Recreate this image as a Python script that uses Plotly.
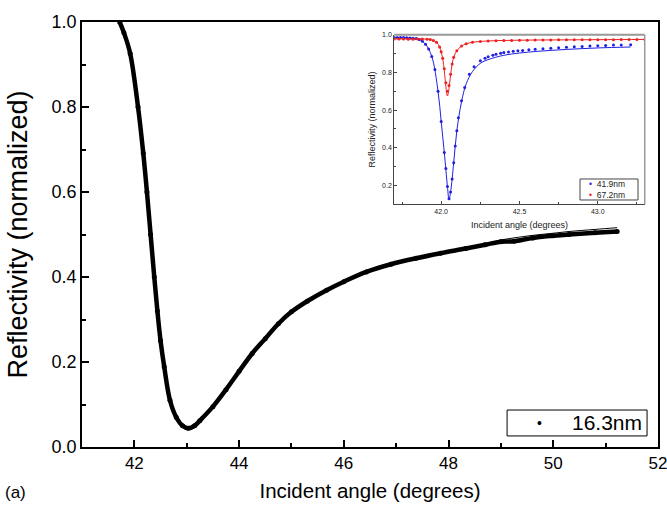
import plotly.graph_objects as go

# ---- main curve: 16.3 nm film (measured points) ----
main_angle = [41.72, 41.80, 41.92, 42.07, 42.17, 42.24, 42.31, 42.38, 42.44, 42.50,
              42.57, 42.68, 42.80, 42.92, 43.03, 43.15, 43.25, 43.50, 43.75, 44.00,
              44.25, 44.50, 44.75, 45.00, 45.30, 45.67, 46.00, 46.43, 46.90, 47.38,
              47.85, 48.33, 48.70, 49.00, 49.25, 49.61, 50.00, 50.30, 50.80, 51.22]
main_refl = [1.000, 0.975, 0.926, 0.800, 0.691, 0.600, 0.500, 0.400, 0.320, 0.250,
             0.189, 0.110, 0.070, 0.050, 0.044, 0.050, 0.062, 0.095, 0.135, 0.178,
             0.220, 0.255, 0.290, 0.318, 0.343, 0.369, 0.389, 0.412, 0.430, 0.444,
             0.456, 0.467, 0.476, 0.483, 0.484, 0.492, 0.497, 0.500, 0.504, 0.507]
# fitted curve (only separates from the points beyond ~48.5 deg)
main_fit_angle = [47.85, 48.33, 48.70, 49.00, 49.25, 49.61, 50.00, 50.30, 50.80, 51.22]
main_fit_refl = [0.456, 0.468, 0.478, 0.487, 0.492, 0.498, 0.503, 0.507, 0.512, 0.516]

# ---- inset: 41.9 nm film ----
blue_angle = [41.70, 41.72, 41.74, 41.76, 41.78, 41.80, 41.82, 41.84, 41.86, 41.88,
              41.90, 41.92, 41.94, 41.96, 41.98, 42.00, 42.02, 42.03, 42.04, 42.05,
              42.06, 42.07, 42.08, 42.09, 42.10, 42.11, 42.13, 42.15, 42.18, 42.21,
              42.25, 42.28, 42.30, 42.33, 42.35, 42.38, 42.40, 42.43, 42.46, 42.49,
              42.52, 42.56, 42.60, 42.65, 42.70, 42.75, 42.80, 42.85, 42.90, 42.95,
              43.00, 43.05, 43.10, 43.15, 43.21]
blue_refl = [0.985, 0.985, 0.985, 0.985, 0.984, 0.983, 0.982, 0.980, 0.975, 0.965,
             0.950, 0.925, 0.885, 0.815, 0.700, 0.540, 0.375, 0.290, 0.195, 0.130,
             0.165, 0.235, 0.320, 0.410, 0.490, 0.560, 0.650, 0.720, 0.790, 0.830,
             0.862, 0.875, 0.883, 0.891, 0.897, 0.902, 0.906, 0.909, 0.912, 0.915,
             0.917, 0.920, 0.923, 0.926, 0.929, 0.931, 0.934, 0.936, 0.938, 0.940,
             0.942, 0.943, 0.945, 0.946, 0.947]
blue_fit_angle = [41.70, 41.80, 41.86, 41.90, 41.94, 41.98, 42.00, 42.02, 42.04, 42.05,
                  42.06, 42.08, 42.10, 42.13, 42.16, 42.20, 42.25, 42.30, 42.40, 42.50,
                  42.60, 42.80, 43.00, 43.21]
blue_fit_refl = [0.985, 0.983, 0.975, 0.950, 0.885, 0.700, 0.540, 0.375, 0.195, 0.125,
                 0.165, 0.320, 0.490, 0.645, 0.740, 0.805, 0.848, 0.868, 0.891, 0.903,
                 0.911, 0.922, 0.930, 0.935]

# ---- inset: 67.2 nm film ----
red_angle = [41.70, 41.73, 41.76, 41.79, 41.82, 41.85, 41.88, 41.91, 41.93, 41.95,
             41.97, 41.99, 42.00, 42.01, 42.02, 42.03, 42.04, 42.05, 42.06, 42.07,
             42.08, 42.10, 42.13, 42.16, 42.20, 42.25, 42.30, 42.35, 42.40, 42.45,
             42.50, 42.55, 42.60, 42.65, 42.70, 42.75, 42.80, 42.85, 42.90, 42.95,
             43.00, 43.05, 43.10, 43.15, 43.20, 43.25, 43.30]
red_refl = [0.978, 0.977, 0.977, 0.976, 0.976, 0.977, 0.977, 0.976, 0.975, 0.970,
            0.960, 0.935, 0.910, 0.875, 0.820, 0.745, 0.700, 0.730, 0.790, 0.845,
            0.880, 0.915, 0.940, 0.952, 0.960, 0.964, 0.967, 0.968, 0.969, 0.970,
            0.971, 0.971, 0.972, 0.972, 0.972, 0.973, 0.973, 0.973, 0.973, 0.974,
            0.974, 0.974, 0.974, 0.975, 0.975, 0.975, 0.975]
red_fit_angle = [41.70, 41.85, 41.93, 41.97, 41.99, 42.01, 42.02, 42.03, 42.04, 42.05,
                 42.06, 42.07, 42.08, 42.10, 42.13, 42.16, 42.20, 42.30, 42.50, 42.80,
                 43.30]
red_fit_refl = [0.978, 0.977, 0.975, 0.960, 0.935, 0.872, 0.810, 0.725, 0.675, 0.715,
                0.785, 0.843, 0.880, 0.915, 0.940, 0.952, 0.960, 0.967, 0.971, 0.973,
                0.975]

main_x_ticks = [42, 44, 46, 48, 50, 52]
inset_x_ticks = [42.0, 42.5, 43.0]

FONT = "Liberation Sans, Arial, sans-serif"
BLUE = "#1f1fe0"
RED = "#ee2020"
INK = "#222"

fig = go.Figure()

# main data: thick dotted curve plus thin fitted line
fig.add_trace(go.Scatter(x=main_fit_angle, y=main_fit_refl, mode="lines",
                         line=dict(color="black", width=1, shape="spline"),
                         showlegend=False, hoverinfo="skip"))
fig.add_trace(go.Scatter(x=main_angle, y=main_refl, mode="lines+markers", name="16.3nm",
                         line=dict(color="black", width=4.5, shape="spline"),
                         marker=dict(color="black", size=5), showlegend=False))

# inset curves: fitted lines under measured dots
fig.add_trace(go.Scatter(x=blue_fit_angle, y=blue_fit_refl, mode="lines",
                         xaxis="x2", yaxis="y2",
                         line=dict(color=BLUE, width=1, shape="spline"),
                         showlegend=False, hoverinfo="skip"))
fig.add_trace(go.Scatter(x=blue_angle, y=blue_refl, mode="markers", xaxis="x2", yaxis="y2",
                         name="41.9nm", marker=dict(color=BLUE, size=3), showlegend=False))
fig.add_trace(go.Scatter(x=red_fit_angle, y=red_fit_refl, mode="lines",
                         xaxis="x2", yaxis="y2",
                         line=dict(color=RED, width=1, shape="spline"),
                         showlegend=False, hoverinfo="skip"))
fig.add_trace(go.Scatter(x=red_angle, y=red_refl, mode="markers", xaxis="x2", yaxis="y2",
                         name="67.2nm", marker=dict(color=RED, size=3), showlegend=False))

axis_common = dict(showgrid=False, zeroline=False, ticks="inside", showline=True,
                   automargin=False)

inset_key = (f"<span style='color:{BLUE}'>•</span>  41.9nm<br>"
             f"<span style='color:{RED}'>•</span>  67.2nm")

annotations = [
    # panel label
    dict(text="(a)", x=-0.137, y=-0.108, xref="paper", yref="paper",
         xanchor="left", yanchor="middle", showarrow=False, font=dict(size=17)),
    # main key
    dict(text="•", x=0.795, y=0.0565, xref="paper", yref="paper", xanchor="center",
         yanchor="middle", showarrow=False, font=dict(size=14, color="black")),
    dict(text="16.3nm", x=0.847, y=0.0565, xref="paper", yref="paper", xanchor="left",
         yanchor="middle", showarrow=False, font=dict(size=21, color="black")),
    # inset key
    dict(text=inset_key, x=0.878, y=0.606, xref="paper", yref="paper", xanchor="left",
         yanchor="middle", align="left", showarrow=False, borderpad=0,
         font=dict(size=8.5, color=INK)),
]

shapes = [
    # inset frame (top and right)
    dict(type="line", xref="x2 domain", yref="y2 domain", x0=0, x1=1, y0=1, y1=1,
         line=dict(color="#999", width=2)),
    dict(type="line", xref="x2 domain", yref="y2 domain", x0=1, x1=1, y0=0, y1=1,
         line=dict(color="#999", width=1.5)),
    # key boxes
    dict(type="rect", xref="paper", yref="paper", x0=0.738, x1=0.981, y0=0.026, y1=0.087,
         line=dict(color="black", width=1), fillcolor="white", layer="below"),
    dict(type="rect", xref="paper", yref="paper", x0=0.8646, x1=0.9653, y0=0.5812,
         y1=0.6306, line=dict(color="#444", width=1), fillcolor="white"),
]

fig.update_layout(
    template="none",
    width=667, height=506,
    margin=dict(l=82, r=9, t=22, b=59),
    paper_bgcolor="white", plot_bgcolor="white",
    font=dict(family=FONT, color="black"),
    showlegend=False,
    xaxis=dict(**axis_common, range=[41, 52], tickvals=main_x_ticks,
               ticklabeloverflow="allow",
               ticklen=7, tickwidth=1.5, linewidth=1.5, linecolor="black", tickcolor="black",
               mirror=True, tickfont=dict(size=17),
               minor=dict(dtick=1, tick0=41, ticklen=4, tickwidth=1.5, ticks="inside",
                          tickcolor="black", showgrid=False),
               title=dict(text="Incident angle (degrees)", font=dict(size=20.5), standoff=11)),
    yaxis=dict(**axis_common, range=[0, 1.0], dtick=0.2, tick0=0, tickformat=".1f",
               ticklen=7, tickwidth=1.5, linewidth=1.5, linecolor="black", tickcolor="black",
               mirror=True, tickfont=dict(size=18),
               minor=dict(dtick=0.1, ticklen=4, tickwidth=1.5, ticks="inside",
                          tickcolor="black", showgrid=False),
               title=dict(text="Reflectivity (normalized)", font=dict(size=27), standoff=16)),
    xaxis2=dict(**axis_common, domain=[0.542, 0.977], anchor="y2", range=[41.7, 43.3],
                tickvals=inset_x_ticks, tickformat=".1f", ticklen=3, tickwidth=1,
                linewidth=1, linecolor="#444", tickcolor="#444",
                tickfont=dict(size=7, color=INK),
                minor=dict(dtick=0.25, tick0=41.75, ticklen=2, ticks="inside",
                           tickcolor="#444", showgrid=False),
                title=dict(text="Incident angle (degrees)", font=dict(size=9, color=INK),
                           standoff=7)),
    yaxis2=dict(**axis_common, domain=[0.571, 0.970], anchor="x2", range=[0.1, 1.0],
                dtick=0.2, tick0=0, tickformat=".1f", ticklen=3, tickwidth=1,
                linewidth=1, linecolor="#444", tickcolor="#444",
                tickfont=dict(size=7, color=INK),
                minor=dict(dtick=0.1, ticklen=2, ticks="inside", tickcolor="#444",
                           showgrid=False),
                title=dict(text="Reflectivity (normalized)", font=dict(size=9, color=INK),
                           standoff=4)),
    annotations=annotations,
    shapes=shapes,
)

fig.write_html("out.html")
